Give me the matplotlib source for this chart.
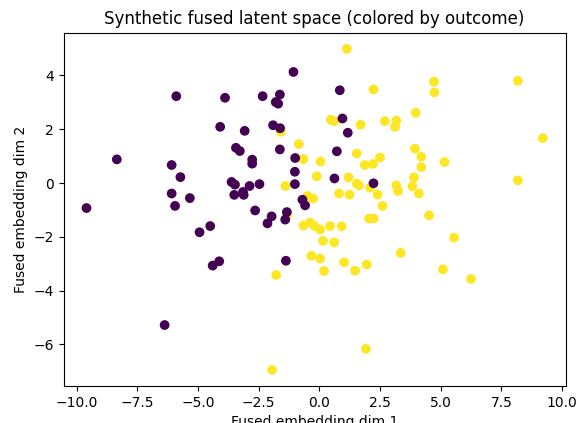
import numpy as np
import matplotlib
matplotlib.use("Agg")
import matplotlib.pyplot as plt

# Outcome 0 points (dim 1, dim 2)
x_neg = [-1.07, -5.90, -3.89, -2.34, -1.63, -1.80, -1.70, -4.09, -3.08, -1.91,
         -1.62, -3.44, -3.28, -1.63, -8.35, -2.77, -2.77, -1.00, -6.09, -5.73,
         -1.01, -3.62, -3.48, -2.88, -2.47, -1.01, -6.09, -5.34, -3.51, -3.15,
         -3.12, -0.70, -0.59, -9.60, -5.95, -2.65, -1.97, -2.14, -1.34, -1.41,
         -4.50, -4.94, -4.40, -4.13, -1.38, -6.38, 0.84, 0.95, 1.17, 0.72,
         0.62, 2.23]
y_neg = [4.13, 3.23, 3.17, 3.23, 3.29, 3.01, 2.95, 2.09, 1.94, 2.15,
         2.04, 1.31, 1.19, 1.25, 0.88, 0.87, 0.72, 0.93, 0.67, 0.22,
         0.42, 0.04, -0.06, -0.11, -0.04, -0.04, -0.39, -0.56, -0.44, -0.33,
         -0.44, -0.62, -0.83, -0.93, -0.85, -1.02, -1.24, -1.50, -1.08, -1.36,
         -1.60, -1.83, -3.07, -2.91, -2.89, -5.28, 3.45, 2.40, 1.87, 1.18,
         0.17, -0.01]

# Outcome 1 points
x_pos = [-1.59, -0.85, -0.66, 0.05, -0.11, -1.40, -0.49, -0.26, -1.34, -1.78,
         -1.95, -0.66, -0.38, -0.20, -0.33, 0.03, 0.19, 0.81, 1.24, 2.40,
         3.24, 4.10, 2.60, 4.52, 2.05, 2.23, 0.03, 0.44, 0.92, 0.15,
         0.61, 5.55, 3.35, 1.02, 1.47, 1.95, 5.09, 6.25, 1.92, 1.13,
         2.23, 4.72, 4.74, 8.18, 3.97, 0.47, 0.61, 1.70, 2.70, 3.17,
         3.12, 9.21, 1.54, 2.50, 3.94, 4.20, 4.20, 5.16, 1.87, 2.21,
         1.20, 1.54, 1.63, 2.09, 3.17, 3.90, 3.83, 8.18]
y_pos = [1.91, 1.45, 0.89, 0.80, 0.25, -0.11, -0.48, -0.58, -1.20, -3.42,
         -6.95, -1.58, -1.47, -1.60, -2.71, -2.81, -3.27, -0.39, -0.43, -0.43,
         -0.30, -0.39, -0.85, -1.20, -1.32, -1.32, -1.73, -1.60, -1.61, -2.15,
         -2.21, -2.03, -2.60, -2.95, -3.26, -3.03, -3.21, -3.57, -6.17, 4.99,
         3.48, 3.77, 3.37, 3.80, 2.61, 2.35, 2.30, 2.17, 2.30, 2.32,
         2.09, 1.67, 1.10, 0.95, 1.28, 0.98, 0.59, 0.78, 0.67, 0.71,
         0.21, -0.02, -0.09, -0.17, -0.09, 0.21, -0.12, 0.10]

x = np.array(x_pos + x_neg)
y = np.array(y_pos + y_neg)
outcome = np.array([1] * len(x_pos) + [0] * len(x_neg))

fig = plt.figure(figsize=(5.81, 4.23), dpi=100)
ax = fig.add_axes([0.1096, 0.0875, 0.864, 0.835])
ax.scatter(x, y, c=outcome, cmap="viridis")
ax.set_title("Synthetic fused latent space (colored by outcome)")
ax.set_xlabel("Fused embedding dim 1")
ax.set_ylabel("Fused embedding dim 2")

fig.savefig("out.png", dpi=100)
